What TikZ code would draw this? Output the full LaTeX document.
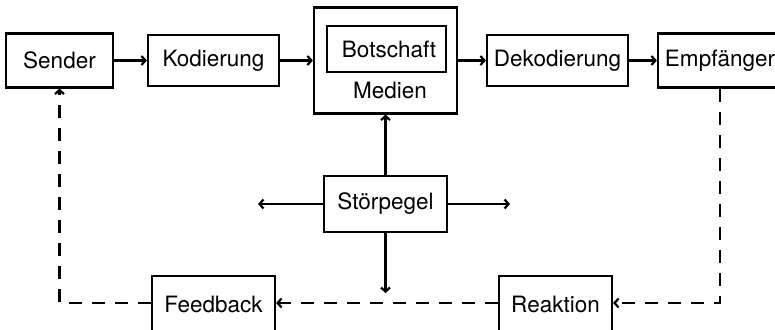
\documentclass[tikz,border=0pt]{standalone}
\usepackage{fontspec}
\setmainfont{TeX Gyre Heros}
\usetikzlibrary{arrows.meta}
\begin{document}
\begin{tikzpicture}[x=1pt,y=-1pt,
  lbl/.style={font=\fontsize{22.5}{27}\selectfont},
  box/.style={lbl, draw, line width=2.2pt, inner sep=0pt},
  flow/.style={line width=2.2pt, -{Straight Barb[length=4pt,width=9pt]}},
  back/.style={flow, dash pattern=on 13pt off 10pt}]
\useasboundingbox (0,0) rectangle (775,329);

% sender chain
\node[box, minimum width=107pt, minimum height=54pt] (sender) at (59.5,60.5) {Sender};
\node[box, minimum width=131pt, minimum height=51pt] (kod) at (213.5,60.5) {Kodierung};
\node[box, minimum width=143pt, minimum height=106pt] (medien) at (385.5,60.5) {};
\node[box, minimum width=119pt, minimum height=46pt] (botschaft) at (386.5,49) {\hspace*{5pt}Botschaft};
\node[lbl, anchor=base, inner sep=0pt] (medlabel) at (390,98) {Medien};
\node[box, minimum width=141pt, minimum height=51pt] (dekod) at (557.5,60.5) {Dekodierung};
\node[box, minimum width=124pt, minimum height=54pt] (empf) at (720,60.5) {Empfänger};

% noise source
\node[box, minimum width=123pt, minimum height=56pt] (stoer) at (385.5,204) {Störpegel};
\coordinate (nl) at (258,204);
\coordinate (nr) at (510,204);
\coordinate (nd) at (385.5,293);

% feedback path (boxes run past the lower edge)
\node[box, minimum width=123pt, minimum height=60pt] (feedback) at (213.5,306) {\raisebox{3pt}{Feedback}};
\node[box, minimum width=113pt, minimum height=60pt] (reaktion) at (555.5,306) {\raisebox{3pt}{Reaktion}};
\coordinate (fbw) at ([yshift=3pt]feedback.west);
\coordinate (fbe) at ([yshift=3pt]feedback.east);
\coordinate (rkw) at ([yshift=3pt]reaktion.west);
\coordinate (rke) at ([yshift=3pt]reaktion.east);

\draw[flow] (sender) -- (kod);
\draw[flow] (kod) -- (medien);
\draw[flow] (medien) -- (dekod);
\draw[flow] (dekod) -- (empf);

\draw[flow] (stoer) -- (medien);
\draw[flow] (stoer) -- (nl);
\draw[flow] (stoer) -- (nr);
\draw[flow] (stoer) -- (nd);

\draw[back] (empf.south) |- (rke);
\draw[back] (rkw) -- (fbe);
\draw[back] (fbw) -| (sender.south);
\end{tikzpicture}
\end{document}
